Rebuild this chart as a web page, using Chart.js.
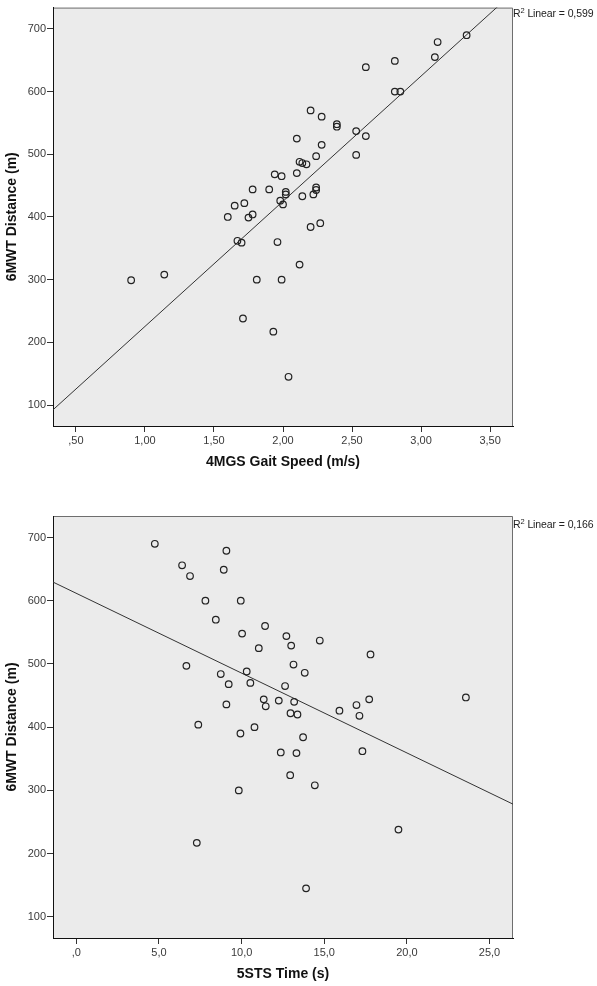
<!DOCTYPE html>
<html lang="en">
<head>
<meta charset="UTF-8">
<title>6MWT scatter plots</title>
<script src="https://cdn.jsdelivr.net/npm/chart.js"></script>
<style>
  body { margin: 0; background: #fff; width: 597px; height: 986px; position: relative; overflow: hidden; font-family: "Liberation Sans", Arial, sans-serif; }
  canvas { position: absolute; left: 0; }
  .r2 { position: absolute; left: 513px; font-size: 10.5px; line-height: 11px; color: #222; white-space: nowrap; letter-spacing: -0.1px; }
  .r2 sup { font-size: 7.5px; line-height: 0; vertical-align: 4px; }
</style>
</head>
<body>
<canvas id="gait-chart" width="597" height="490" style="top:0"></canvas>
<canvas id="sts-chart" width="597" height="496" style="top:490px"></canvas>
<div class="r2" style="top:8px">R<sup>2</sup> Linear = 0,599</div>
<div class="r2" style="top:519px">R<sup>2</sup> Linear = 0,166</div>

<script>
// 4MGS gait speed (m/s) vs 6MWT distance (m)
const gaitSpeed = [0.90, 1.14, 1.60, 1.65, 1.67, 1.70, 1.71, 1.72, 1.75, 1.78, 1.78, 1.81, 1.90, 1.93, 1.94, 1.96, 1.98,
    1.99, 1.99, 2.00, 2.02, 2.02, 2.04, 2.10, 2.10, 2.12, 2.12, 2.14, 2.14, 2.17, 2.20, 2.20, 2.22, 2.24, 2.24, 2.24,
    2.27, 2.28, 2.28, 2.39, 2.39, 2.53, 2.53, 2.60, 2.60, 2.81, 2.81, 2.85, 3.10, 3.12, 3.33];
const gaitDistance = [299, 308, 400, 418, 362, 359, 238, 422, 399, 404, 444, 300, 444, 217, 468, 360, 426,
    465, 300, 420, 440, 436, 145, 525, 470, 488, 324, 486, 433, 484, 570, 384, 436, 497, 447, 443,
    390, 560, 515, 548, 544, 537, 499, 639, 529, 649, 600, 600, 655, 679, 690];

// 5STS time (s) vs 6MWT distance (m)
const stsTime = [4.75, 9.08, 6.40, 8.92, 6.88, 7.81, 9.95, 8.44, 11.42, 10.03, 12.71, 14.73, 13.00, 11.04, 17.80, 13.14,
    6.66, 10.31, 13.82, 8.74, 10.53, 9.22, 12.63, 23.57, 11.34, 17.72, 12.25, 13.18, 9.08, 16.95, 11.46, 15.92,
    12.96, 13.38, 17.13, 7.38, 10.78, 9.93, 13.72, 17.31, 12.37, 13.32, 12.94, 14.43, 9.83, 19.49, 7.29, 13.90];
const stsDistance = [690, 679, 656, 649, 639, 600, 600, 570, 560, 548, 544, 537, 529, 525, 515, 499,
    497, 488, 486, 484, 470, 468, 465, 447, 444, 444, 442, 440, 436, 435, 433, 426,
    422, 420, 418, 404, 400, 390, 384, 362, 360, 359, 324, 308, 300, 238, 217, 145];

const distanceTicks = [100, 200, 300, 400, 500, 600, 700];
const gaitTicks = [0.5, 1.0, 1.5, 2.0, 2.5, 3.0, 3.5];
const stsTicks = [0, 5, 10, 15, 20, 25];

const distanceRange = [66.5, 734];
const gaitRange = [0.334, 3.666];
const stsRange = [-1.41, 26.42];

// ordinary least squares, same as the SPSS fit line
function linearFit(xs, ys) {
    const n = xs.length;
    const mx = xs.reduce((s, v) => s + v, 0) / n;
    const my = ys.reduce((s, v) => s + v, 0) / n;
    let sxy = 0, sxx = 0;
    for (let i = 0; i < n; i++) {
        sxy += (xs[i] - mx) * (ys[i] - my);
        sxx += (xs[i] - mx) * (xs[i] - mx);
    }
    const slope = sxy / sxx;
    return { slope: slope, intercept: my - slope * mx };
}

// grey plot background with a thin grey frame on top/right
const plotFrame = {
    id: 'plotFrame',
    beforeDraw(chart) {
        const { ctx, chartArea: a } = chart;
        ctx.save();
        ctx.fillStyle = '#ebebeb';
        ctx.fillRect(a.left, a.top, a.right - a.left, a.bottom - a.top);
        ctx.strokeStyle = '#6e6e6e';
        ctx.lineWidth = 1;
        ctx.beginPath();
        ctx.moveTo(a.left, a.top + 0.5);
        ctx.lineTo(a.right - 0.5, a.top + 0.5);
        ctx.lineTo(a.right - 0.5, a.bottom);
        ctx.stroke();
        ctx.restore();
    }
};

function makeChart(canvasId, xs, ys, xRange, xTicks, digits, xTitle, padding) {
    const fit = linearFit(xs, ys);
    const points = xs.map((x, i) => ({ x: x, y: ys[i] }));
    const fitLine = xRange.map(x => ({ x: x, y: fit.intercept + fit.slope * x }));
    const tickFont = { family: 'Liberation Sans', size: 11 };
    const titleFont = { family: 'Liberation Sans', size: 14, weight: 'bold' };

    return new Chart(document.getElementById(canvasId), {
        type: 'scatter',
        data: {
            datasets: [{
                data: points,
                pointStyle: 'circle',
                pointRadius: 3.3,
                pointBorderWidth: 1.2,
                pointBorderColor: '#222',
                pointBackgroundColor: 'rgba(0,0,0,0)'
            }, {
                data: fitLine,
                showLine: true,
                pointRadius: 0,
                borderColor: '#333',
                borderWidth: 1,
                clip: 0
            }]
        },
        options: {
            responsive: false,
            devicePixelRatio: 1,
            animation: false,
            events: [],
            layout: { padding: padding },
            plugins: { legend: { display: false }, tooltip: { enabled: false } },
            scales: {
                x: {
                    type: 'linear',
                    min: xRange[0],
                    max: xRange[1],
                    afterBuildTicks: axis => { axis.ticks = xTicks.map(v => ({ value: v })); },
                    afterFit: axis => { axis.height = 45; },
                    ticks: {
                        font: tickFont,
                        color: '#3a3a3a',
                        padding: 2,
                        maxRotation: 0,
                        callback: v => v.toFixed(digits).replace('.', ',').replace(/^0,/, ',')
                    },
                    grid: { drawOnChartArea: false, drawTicks: true, tickLength: 6, color: '#333' },
                    border: { display: true, color: '#111', width: 1 },
                    title: { display: true, text: xTitle, font: titleFont, color: '#111', padding: { top: 4, bottom: 0 } }
                },
                y: {
                    type: 'linear',
                    min: distanceRange[0],
                    max: distanceRange[1],
                    afterBuildTicks: axis => { axis.ticks = distanceTicks.map(v => ({ value: v })); },
                    afterFit: axis => { axis.width = 53; },
                    ticks: { font: tickFont, color: '#3a3a3a', padding: 1 },
                    grid: { drawOnChartArea: false, drawTicks: true, tickLength: 6, color: '#333' },
                    border: { display: true, color: '#111', width: 1 },
                    title: { display: true, text: '6MWT Distance (m)', font: titleFont, color: '#111', padding: { top: 4, bottom: 0 } }
                }
            }
        },
        plugins: [plotFrame]
    });
}

makeChart('gait-chart', gaitSpeed, gaitDistance, gaitRange, gaitTicks, 2, '4MGS Gait Speed (m/s)',
    { top: 3, right: 84, bottom: 19, left: 0 });
makeChart('sts-chart', stsTime, stsDistance, stsRange, stsTicks, 1, '5STS Time (s)',
    { top: 26, right: 84, bottom: 3, left: 0 });
</script>
</body>
</html>
